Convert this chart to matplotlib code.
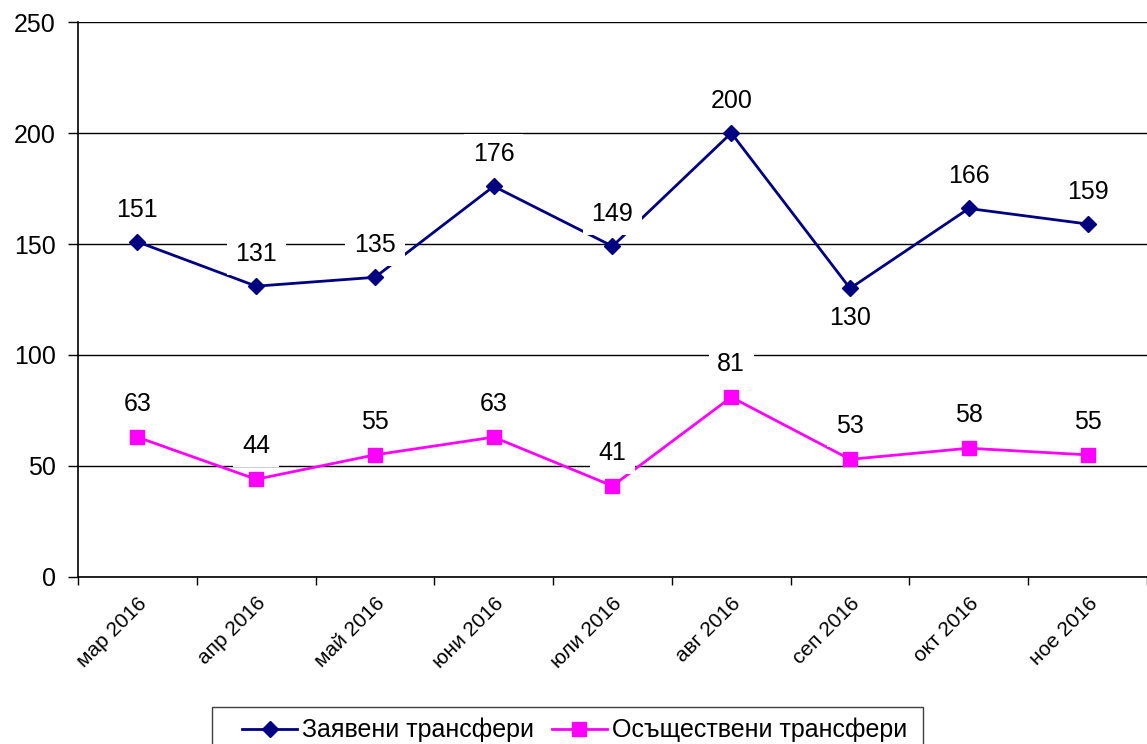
import numpy as np
import matplotlib
matplotlib.use('Agg')
import matplotlib.pyplot as plt
from matplotlib.patches import Rectangle

plt.rcParams['font.family'] = ['Liberation Sans', 'DejaVu Sans']

months = ['мар 2016', 'апр 2016', 'май 2016', 'юни 2016', 'юли 2016',
          'авг 2016', 'сеп 2016', 'окт 2016', 'ное 2016']
requested = [151, 131, 135, 176, 149, 200, 130, 166, 159]
completed = [63, 44, 55, 63, 41, 81, 53, 58, 55]
# label below the point for these (index)
below = {6}

fig = plt.figure(figsize=(11.47, 7.44), dpi=100)
ax = fig.add_axes([0.068, 0.2245, 0.932, 0.7459])

x = np.arange(len(months))
ax.plot(x, requested, color='#000080', lw=2, marker='D', ms=8,
        label='Заявени трансфери', zorder=3)
ax.plot(x, completed, color='#FF00FF', lw=2, marker='s', ms=10,
        label='Осъществени трансфери', zorder=3)

box = dict(boxstyle='square,pad=0.35', fc='white', ec='none')
for i, v in enumerate(requested):
    dy = -30 if i in below else 32
    ax.annotate(str(v), (x[i], v), xytext=(0, dy), textcoords='offset pixels',
                ha='center', va='center', fontsize=18, bbox=box, zorder=4)
for i, v in enumerate(completed):
    ax.annotate(str(v), (x[i], v), xytext=(0, 33), textcoords='offset pixels',
                ha='center', va='center', fontsize=18, bbox=box, zorder=4)

ax.set_xlim(-0.5, len(months) - 0.5)
ax.set_ylim(0, 250)
ax.set_yticks([0, 50, 100, 150, 200, 250])
ax.yaxis.grid(True, color='black', lw=1)
ax.set_axisbelow(True)

ax.set_xticks(x)
ax.set_xticklabels(months, rotation=45, ha='right', rotation_mode='anchor',
                   fontsize=15)
ax.set_xticks(np.arange(-0.5, len(months)), minor=True)
ax.tick_params(axis='x', which='major', length=0, pad=12)
ax.tick_params(axis='x', which='minor', length=6, width=1, direction='out')
ax.tick_params(axis='y', length=7, width=1, labelsize=18, pad=9)

for s in ['top', 'right']:
    ax.spines[s].set_visible(False)
ax.spines['left'].set_linewidth(1.2)
ax.spines['bottom'].set_linewidth(1.2)

# legend frame (runs past the bottom edge like the original)
fig.patches.append(Rectangle((212 / 1147, -0.05), (923 - 212) / 1147,
                             0.05 + 1 - 707 / 744, transform=fig.transFigure,
                             fill=False, ec='#404040', lw=1))
leg = fig.legend(loc='center left', bbox_to_anchor=(242 / 1147, 1 - 730 / 744),
                 ncol=2, fontsize=18, frameon=False, borderpad=0,
                 borderaxespad=0, handlelength=2.2, handletextpad=0.2,
                 columnspacing=0.7)

plt.savefig('out.png', dpi=100)
